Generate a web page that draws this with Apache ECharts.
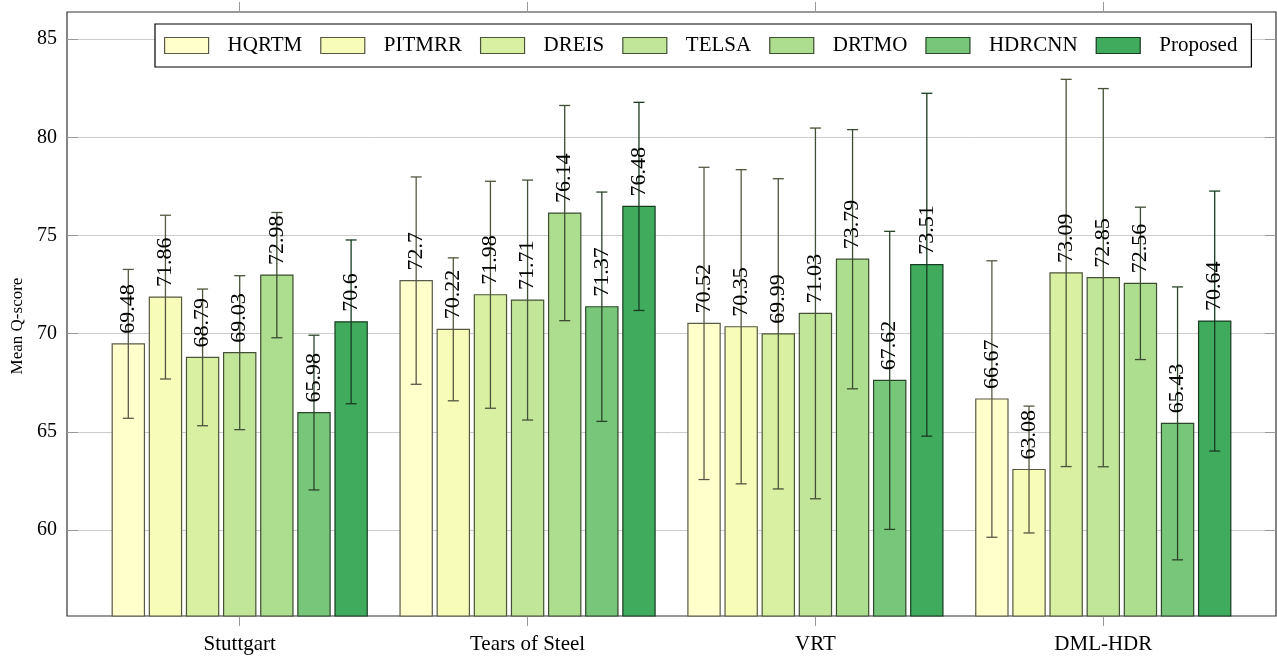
<!DOCTYPE html>
<html>
<head>
<meta charset="utf-8">
<title>Mean Q-score per dataset</title>
<script src="https://cdn.jsdelivr.net/npm/echarts@6/dist/echarts.min.js"></script>
<style>
  html, body { margin: 0; padding: 0; background: #fff; }
  #chart { width: 1277px; height: 658px; }
</style>
</head>
<body>
<div id="chart"></div>
<script>
// Datasets (groups along the x axis)
const categories = ['Stuttgart', 'Tears of Steel', 'VRT', 'DML-HDR'];

// Methods (one bar per dataset each)
const methods = ['HQRTM', 'PITMRR', 'DREIS', 'TELSA', 'DRTMO', 'HDRCNN', 'Proposed'];

// Mean Q-score per dataset, one array per method
const meanHQRTM    = [69.48, 72.7, 70.52, 66.67];
const meanPITMRR   = [71.86, 70.22, 70.35, 63.08];
const meanDREIS    = [68.79, 71.98, 69.99, 73.09];
const meanTELSA    = [69.03, 71.71, 71.03, 72.85];
const meanDRTMO    = [72.98, 76.14, 73.79, 72.56];
const meanHDRCNN   = [65.98, 71.37, 67.62, 65.43];
const meanProposed = [70.6, 76.48, 73.51, 70.64];

// Error bar half-widths (±) per dataset
const errHQRTM    = [3.79, 5.28, 7.95, 7.04];
const errPITMRR   = [4.17, 3.64, 8.0, 3.23];
const errDREIS    = [3.48, 5.78, 7.9, 9.86];
const errTELSA    = [3.92, 6.11, 9.44, 9.63];
const errDRTMO    = [3.19, 5.48, 6.6, 3.88];
const errHDRCNN   = [3.94, 5.84, 7.59, 6.95];
const errProposed = [4.17, 5.3, 8.73, 6.62];

// Y axis tick values
const yTicks = [60, 65, 70, 75, 80, 85];

const means = [meanHQRTM, meanPITMRR, meanDREIS, meanTELSA, meanDRTMO, meanHDRCNN, meanProposed];
const errs  = [errHQRTM, errPITMRR, errDREIS, errTELSA, errDRTMO, errHDRCNN, errProposed];

// YlGn sequential palette
const colors = ['#ffffcc', '#f7fcb9', '#d9f0a3', '#c2e699', '#addd8e', '#78c679', '#41ab5d'];

// Outline / error-bar colour: the fill darkened towards black
function darken(hex, keep) {
  const n = parseInt(hex.slice(1), 16);
  const r = Math.round(((n >> 16) & 255) * keep);
  const g = Math.round(((n >> 8) & 255) * keep);
  const b = Math.round((n & 255) * keep);
  return 'rgb(' + r + ',' + g + ',' + b + ')';
}

const FONT = 'Liberation Serif';
const X_MIN = -0.6, X_MAX = 3.6;
const Y_MIN = 55.62, Y_MAX = 86.38;
const PITCH = 0.129;   // distance between neighbouring bars inside a group
const BAR_W = 0.112;   // bar width in group units
const CAP = 5.5;       // half width of error-bar caps, px

const chart = echarts.init(document.getElementById('chart'), null, { renderer: 'canvas' });

const series = methods.map(function (name, s) {
  const fill = colors[s];
  const dark = darken(fill, 0.35);
  const data = categories.map(function (c, g) { return [g, means[s][g], errs[s][g]]; });
  return {
    name: name,
    type: 'custom',
    xAxisIndex: 0,
    yAxisIndex: 0,
    itemStyle: { color: fill, borderColor: dark, borderWidth: 1.2 },
    encode: { x: 0, y: 1 },
    data: data,
    z: 3,
    renderItem: function (params, api) {
      const g = api.value(0), v = api.value(1), e = api.value(2);
      const xc = g + (s - 3) * PITCH;
      const tl = api.coord([xc - BAR_W / 2, v]);
      const br = api.coord([xc + BAR_W / 2, Y_MIN]);
      const top = api.coord([xc, v + e]);
      const bot = api.coord([xc, v - e]);
      const cx = (tl[0] + br[0]) / 2;
      const lineStyle = { stroke: dark, lineWidth: 1.3, fill: null };
      return {
        type: 'group',
        children: [
          {
            type: 'rect',
            shape: { x: tl[0], y: tl[1], width: br[0] - tl[0], height: br[1] - tl[1] },
            style: { fill: fill, stroke: dark, lineWidth: 1.2 }
          },
          { type: 'line', shape: { x1: cx, y1: top[1], x2: cx, y2: bot[1] }, style: lineStyle },
          { type: 'line', shape: { x1: cx - CAP, y1: top[1], x2: cx + CAP, y2: top[1] }, style: lineStyle },
          { type: 'line', shape: { x1: cx - CAP, y1: bot[1], x2: cx + CAP, y2: bot[1] }, style: lineStyle },
          {
            type: 'text',
            x: cx,
            y: tl[1] - 10,
            rotation: Math.PI / 2,
            style: {
              text: String(v),
              fill: '#000',
              font: '22px "' + FONT + '"',
              align: 'left',
              verticalAlign: 'middle'
            },
            z2: 10
          }
        ]
      };
    }
  };
});

const tickStyle = { color: '#999', width: 1 };

const option = {
  animation: false,
  backgroundColor: '#fff',
  textStyle: { fontFamily: FONT },
  grid: {
    left: 67, right: 1, top: 12, bottom: 42,
    show: true, borderColor: '#333', borderWidth: 1.2, backgroundColor: 'transparent',
    containLabel: false,
    outerBoundsMode: 'none'
  },
  legend: {
    data: methods.map(function (m, i) {
      return { name: m, itemStyle: { color: colors[i], borderColor: darken(colors[i], 0.35), borderWidth: 1.2 } };
    }),
    icon: 'rect',
    left: 155,
    top: 24,
    itemWidth: 44,
    itemHeight: 16,
    itemGap: 18,
    padding: [11, 14, 11, 9],
    borderColor: '#000',
    borderWidth: 1.2,
    backgroundColor: '#fff',
    textStyle: { fontFamily: FONT, fontSize: 21, color: '#000', padding: [0, 0, 0, 14], lineHeight: 18 }
  },
  xAxis: [
    {
      type: 'value',
      position: 'bottom',
      min: X_MIN, max: X_MAX,
      axisLine: { show: false, onZero: false },
      splitLine: { show: false },
      axisTick: { show: true, customValues: [0, 1, 2, 3], length: 10, inside: false, lineStyle: tickStyle },
      axisLabel: {
        customValues: [0, 1, 2, 3],
        formatter: function (v) { return categories[Math.round(v)]; },
        fontFamily: FONT, fontSize: 21, color: '#000', margin: 18
      }
    },
    {
      type: 'value',
      position: 'top',
      min: X_MIN, max: X_MAX,
      axisLine: { show: false, onZero: false },
      splitLine: { show: false },
      axisTick: { show: true, customValues: [0, 1, 2, 3], length: 10, inside: false, lineStyle: tickStyle },
      axisLabel: { show: false }
    }
  ],
  yAxis: [
    {
      type: 'value',
      position: 'left',
      min: Y_MIN, max: Y_MAX,
      name: 'Mean Q-score',
      nameLocation: 'middle',
      nameGap: 37,
      nameTextStyle: { fontFamily: FONT, fontSize: 17, color: '#000', padding: [0, 24, 0, 0] },
      axisLine: { show: false, onZero: false },
      splitLine: { show: true, lineStyle: { color: '#cccccc', width: 1 } },
      axisTick: { show: true, customValues: yTicks, inside: true, length: 11, lineStyle: tickStyle },
      axisLabel: { customValues: yTicks, fontFamily: FONT, fontSize: 20, color: '#000', margin: 10 }
    },
    {
      type: 'value',
      position: 'right',
      min: Y_MIN, max: Y_MAX,
      axisLine: { show: false, onZero: false },
      splitLine: { show: false },
      axisTick: { show: true, customValues: yTicks, inside: true, length: 11, lineStyle: tickStyle },
      axisLabel: { show: false }
    }
  ],
  series: series
};

chart.setOption(option);
</script>
</body>
</html>
